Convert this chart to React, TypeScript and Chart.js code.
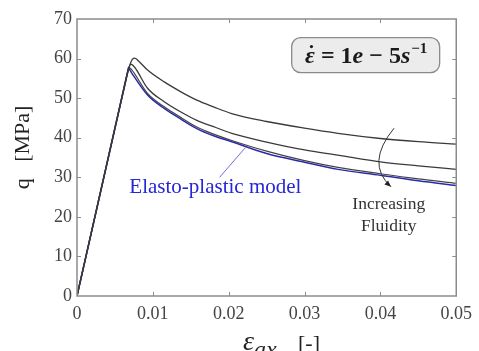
import React, { useEffect, useRef } from 'react';
import { Chart, registerables } from 'chart.js';

Chart.register(...registerables);

// ---- data ----
const strainA = [0, 0.0066, 0.0070, 0.0073, 0.0076, 0.0080, 0.0093, 0.0115, 0.0137, 0.0158, 0.018, 0.0204, 0.025, 0.030, 0.0344, 0.040, 0.045, 0.05];
const stressA = [0, 55.9, 58.6, 59.8, 60.1, 59.6, 57.1, 54.1, 51.6, 49.5, 47.8, 46.1, 44.1, 42.4, 41.1, 39.8, 39.0, 38.4];

const strainB = [0, 0.0066, 0.0069, 0.0071, 0.0076, 0.0093, 0.0115, 0.0137, 0.0158, 0.018, 0.0204, 0.025, 0.030, 0.0344, 0.040, 0.045, 0.05];
const stressB = [0, 55.9, 58.0, 58.6, 57.8, 52.5, 49.1, 46.5, 44.4, 42.8, 41.1, 38.9, 36.9, 35.6, 33.9, 32.9, 32.0];

const strainC = [0, 0.0068, 0.0072, 0.0093, 0.0115, 0.0137, 0.0158, 0.018, 0.0204, 0.025, 0.030, 0.0344, 0.040, 0.045, 0.05];
const stressC = [0, 57.9, 57.2, 51.2, 47.8, 45.1, 42.7, 40.9, 39.3, 36.6, 34.2, 32.5, 30.9, 29.6, 28.5];

const strainElasto = [0, 0.0068, 0.0072, 0.0093, 0.0115, 0.0137, 0.0158, 0.018, 0.0204, 0.025, 0.030, 0.0344, 0.040, 0.045, 0.05];
const stressElasto = [0, 57.6, 56.4, 50.8, 47.4, 44.7, 42.3, 40.5, 39.0, 36.0, 33.8, 32.0, 30.5, 29.1, 27.9];

const xTickValues = [0, 0.01, 0.02, 0.03, 0.04, 0.05];
const yTickValues = [0, 10, 20, 30, 40, 50, 60, 70];

const yTitle = 'q   [MPa]';
const elastoLabel = 'Elasto-plastic model';
const fluidityLabel = ['Increasing', 'Fluidity'];

const pts = (xs: number[], ys: number[]) => xs.map((x, i) => ({ x, y: ys[i] }));

const SERIF = '"Liberation Serif", "DejaVu Serif", serif';

const decorPlugin = {
  id: 'decor',
  afterDraw(chart: any) {
    const ctx = chart.ctx as CanvasRenderingContext2D;
    const { left, right, top, bottom } = chart.chartArea;
    const xs = chart.scales.x;
    const ys = chart.scales.y;
    const px = (v: number) => xs.getPixelForValue(v);
    const py = (v: number) => ys.getPixelForValue(v);
    ctx.save();

    // frame
    ctx.strokeStyle = '#8c8c8c';
    ctx.lineWidth = 1.5;
    ctx.strokeRect(left, top, right - left, bottom - top);
    // inward ticks
    ctx.lineWidth = 1;
    ctx.beginPath();
    xTickValues.slice(1, -1).forEach((v) => {
      const x = Math.round(px(v)) + 0.5;
      ctx.moveTo(x, bottom); ctx.lineTo(x, bottom - 4);
      ctx.moveTo(x, top); ctx.lineTo(x, top + 4);
    });
    yTickValues.slice(1, -1).forEach((v) => {
      const y = Math.round(py(v)) + 0.5;
      ctx.moveTo(left, y); ctx.lineTo(left + 4, y);
      ctx.moveTo(right, y); ctx.lineTo(right - 4, y);
    });
    ctx.stroke();

    // strain-rate box
    const bx = px(0.0283), by = py(65.3), bw = 148, bh = 35;
    ctx.beginPath();
    ctx.roundRect(bx, by, bw, bh, 9);
    ctx.fillStyle = '#ececec';
    ctx.fill();
    ctx.strokeStyle = '#8a8a8a';
    ctx.lineWidth = 1.3;
    ctx.stroke();
    const FS = 24;
    const segs: [string, string][] = [
      ['ε', `italic bold ${FS}px ` + SERIF],
      [' = 1', `bold ${FS}px ` + SERIF],
      ['e', `italic bold ${FS}px ` + SERIF],
      [' − 5', `bold ${FS}px ` + SERIF],
      ['s', `italic bold ${FS}px ` + SERIF],
    ];
    let total = 0;
    segs.forEach(([t, f]) => { ctx.font = f; total += ctx.measureText(t).width; });
    ctx.font = 'bold 15px ' + SERIF;
    const supW = ctx.measureText('−1').width;
    total += supW;
    let cx = bx + (bw - total) / 2;
    const base = by + bh / 2 + 8;
    ctx.fillStyle = '#1a1a1a';
    ctx.textAlign = 'left';
    ctx.textBaseline = 'alphabetic';
    segs.forEach(([t, f], i) => {
      ctx.font = f;
      ctx.fillText(t, cx, base);
      const w = ctx.measureText(t).width;
      if (i === 0) {
        ctx.beginPath();
        ctx.arc(cx + w / 2 + 1.5, base - 16.5, 1.6, 0, Math.PI * 2);
        ctx.fill();
      }
      cx += w;
    });
    ctx.font = 'bold 15px ' + SERIF;
    ctx.fillText('−1', cx + 1, base - 10);

    // elasto-plastic label + pointer
    ctx.strokeStyle = '#7070d0';
    ctx.lineWidth = 1;
    ctx.beginPath();
    ctx.moveTo(px(0.0188), py(30.0));
    ctx.lineTo(px(0.0222), py(37.5));
    ctx.stroke();
    ctx.font = '21px ' + SERIF;
    ctx.fillStyle = '#2626d8';
    ctx.textAlign = 'center';
    ctx.textBaseline = 'middle';
    ctx.fillText(elastoLabel, px(0.01824), py(27.3));

    // increasing fluidity
    ctx.font = '17.5px ' + SERIF;
    ctx.fillStyle = '#333';
    ctx.fillText(fluidityLabel[0], px(0.0411), py(23.2));
    ctx.fillText(fluidityLabel[1], px(0.0411), py(17.6));

    // curved arrow
    const sx = px(0.0418), sy = py(42.4);
    const qx = px(0.0380), qy = py(33.5);
    const ex = px(0.0414), ey = py(27.6);
    ctx.strokeStyle = '#333';
    ctx.lineWidth = 1;
    ctx.beginPath();
    ctx.moveTo(sx, sy);
    ctx.quadraticCurveTo(qx, qy, ex, ey);
    ctx.stroke();
    const ang = Math.atan2(ey - qy, ex - qx);
    ctx.fillStyle = '#222';
    ctx.beginPath();
    ctx.moveTo(ex, ey);
    ctx.lineTo(ex - 7 * Math.cos(ang - 0.4), ey - 7 * Math.sin(ang - 0.4));
    ctx.lineTo(ex - 7 * Math.cos(ang + 0.4), ey - 7 * Math.sin(ang + 0.4));
    ctx.closePath();
    ctx.fill();

    // y title
    ctx.save();
    ctx.translate(23, (top + bottom) / 2 - 10);
    ctx.rotate(-Math.PI / 2);
    ctx.font = '22px ' + SERIF;
    ctx.fillStyle = '#222';
    ctx.textAlign = 'center';
    ctx.textBaseline = 'middle';
    ctx.fillText(yTitle, 0, 0);
    ctx.restore();

    // x title
    ctx.fillStyle = '#222';
    ctx.textAlign = 'left';
    ctx.textBaseline = 'alphabetic';
    let tx = 243;
    ctx.font = 'italic 28px ' + SERIF;
    ctx.fillText('ε', tx, 350);
    tx += ctx.measureText('ε').width;
    ctx.font = 'italic 24px ' + SERIF;
    ctx.fillText('ax', tx, 357);
    ctx.font = '22px ' + SERIF;
    ctx.fillText('[-]', 298, 350);

    ctx.restore();
  },
};

export default function App() {
  const ref = useRef<HTMLCanvasElement | null>(null);
  useEffect(() => {
    document.body.style.margin = '0';
    const canvas = ref.current!;
    const elastic = (data: { x: number; y: number }[], color: string, w: number) => ({
      data: data.slice(0, 2),
      borderColor: color,
      borderWidth: w,
      pointRadius: 0,
      fill: false,
      tension: 0,
    });
    const soft = (data: { x: number; y: number }[], color: string, w: number) => ({
      data: data.slice(1),
      borderColor: color,
      borderWidth: w,
      pointRadius: 0,
      fill: false,
      cubicInterpolationMode: 'monotone' as const,
    });
    const A = pts(strainA, stressA);
    const B = pts(strainB, stressB);
    const C = pts(strainC, stressC);
    const E = pts(strainElasto, stressElasto);
    const chart = new Chart(canvas, {
      type: 'line',
      data: {
        datasets: [
          elastic(A, '#3a3a3a', 1.3),
          soft(A, '#3a3a3a', 1.3),
          elastic(B, '#3a3a3a', 1.3),
          soft(B, '#3a3a3a', 1.3),
          elastic(E, '#2b2ba8', 1.5),
          soft(E, '#2b2ba8', 1.5),
          elastic(C, '#333333', 1.3),
          soft(C, '#444444', 1.2),
        ],
      },
      options: {
        animation: false,
        responsive: false,
        maintainAspectRatio: false,
        layout: { padding: { top: 19, right: 20, left: 0, bottom: 0 } },
        plugins: { legend: { display: false }, tooltip: { enabled: false } },
        scales: {
          x: {
            type: 'linear',
            min: 0,
            max: 0.05,
            grid: { display: false, drawTicks: false },
            border: { display: false },
            afterBuildTicks: (s: any) => { s.ticks = xTickValues.map((v) => ({ value: v })); },
            afterFit: (s: any) => { s.height = 55; },
            ticks: {
              padding: 7,
              color: '#444',
              font: { family: SERIF, size: 18 },
              maxRotation: 0,
              callback: (v: any) => (Number(v) === 0 ? '0' : Number(v).toFixed(2)),
            },
          },
          y: {
            type: 'linear',
            min: 0,
            max: 70,
            grid: { display: false, drawTicks: false },
            border: { display: false },
            afterBuildTicks: (s: any) => { s.ticks = yTickValues.map((v) => ({ value: v })); },
            afterFit: (s: any) => { s.width = 77; },
            ticks: {
              padding: 5,
              color: '#444',
              font: { family: SERIF, size: 18 },
            },
          },
        },
      },
      plugins: [decorPlugin],
    });
    return () => chart.destroy();
  }, []);
  return (
    <div style={{ width: 479, height: 351, background: '#fff' }}>
      <canvas ref={ref} width={479} height={351} style={{ display: 'block' }} />
    </div>
  );
}
